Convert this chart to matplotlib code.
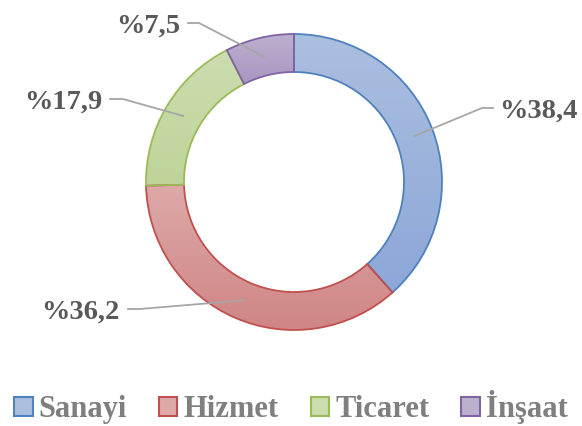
import numpy as np
import matplotlib.pyplot as plt
from matplotlib.colors import LinearSegmentedColormap

# shares (%), clockwise from 12 o'clock
sectors = ['Sanayi', 'Hizmet', 'Ticaret', 'İnşaat']
shares = [38.4, 36.2, 17.9, 7.5]
labels = ['%38,4', '%36,2', '%17,9', '%7,5']

edge_cols = ['#4F81BD', '#C0504D', '#9BBB59', '#8064A2']
top_cols = ['#ABBFDF', '#DDA9A9', '#CCDDB0', '#BCB0CF']
bot_cols = ['#8CA7D8', '#D08585', '#BED498', '#A896C0']

# leader line end (x), knee (x), y and text side
leaders = [(493, 482, 318, 'left'), (128, 140, 117, 'right'),
           (110, 123, 327, 'right'), (188, 199, 403, 'right')]

fig = plt.figure(figsize=(5.82, 4.26), dpi=100)
ax = fig.add_axes([0, 0, 1, 1])

cx, cy, r = 294, 244, 148
width = 38

wedges, _ = ax.pie(shares, startangle=90, counterclock=False, center=(cx, cy),
                   radius=r, frame=True,
                   wedgeprops=dict(width=width, linewidth=1.3))

grad = np.linspace(0, 1, 256).reshape(-1, 1)
for w, ec, tc, bc in zip(wedges, edge_cols, top_cols, bot_cols):
    w.set_facecolor('none')
    w.set_edgecolor(ec)
    w.set_zorder(3)
    cmap = LinearSegmentedColormap.from_list('g', [bc, tc])
    bb = w.get_path().get_extents()
    im = ax.imshow(grad, cmap=cmap, origin='lower', aspect='auto',
                   extent=[bb.x0, bb.x1, bb.y0, bb.y1], zorder=2,
                   interpolation='bilinear')
    im.set_clip_path(w)

ax.set_xlim(0, 582)
ax.set_ylim(0, 426)
ax.set_aspect('equal')
ax.axis('off')

# labels with leader lines
rm = r - width / 2
for w, lab, (lx, kx, ty, side) in zip(wedges, labels, leaders):
    ang = np.deg2rad((w.theta1 + w.theta2) / 2)
    px, py = cx + rm * np.cos(ang), cy + rm * np.sin(ang)
    ax.plot([px, kx, lx], [py, ty, ty], color='#A6A6A6', lw=1.3, zorder=4)
    if side == 'left':
        ax.text(lx + 6, ty, lab, ha='left', va='center_baseline',
                fontsize=20.5, fontweight='bold', color='#595959',
                family='Liberation Serif', zorder=5)
    else:
        ax.text(lx - 8, ty, lab, ha='right', va='center_baseline',
                fontsize=20.5, fontweight='bold', color='#595959',
                family='Liberation Serif', zorder=5)

# legend
handles = [plt.Rectangle((0, 0), 1, 1, facecolor=tc, edgecolor=ec, lw=1.5)
           for tc, ec in zip(top_cols, edge_cols)]
fig.legend(handles, sectors, loc='center', bbox_to_anchor=(0.5, 19 / 426),
           ncol=4, frameon=False, handlelength=0.6, handleheight=0.6,
           handletextpad=0.2, columnspacing=1.05, borderpad=0,
           prop=dict(family='Liberation Serif', weight='bold', size=22),
           labelcolor='#7F7F7F')

fig.savefig('out.png', dpi=100)
